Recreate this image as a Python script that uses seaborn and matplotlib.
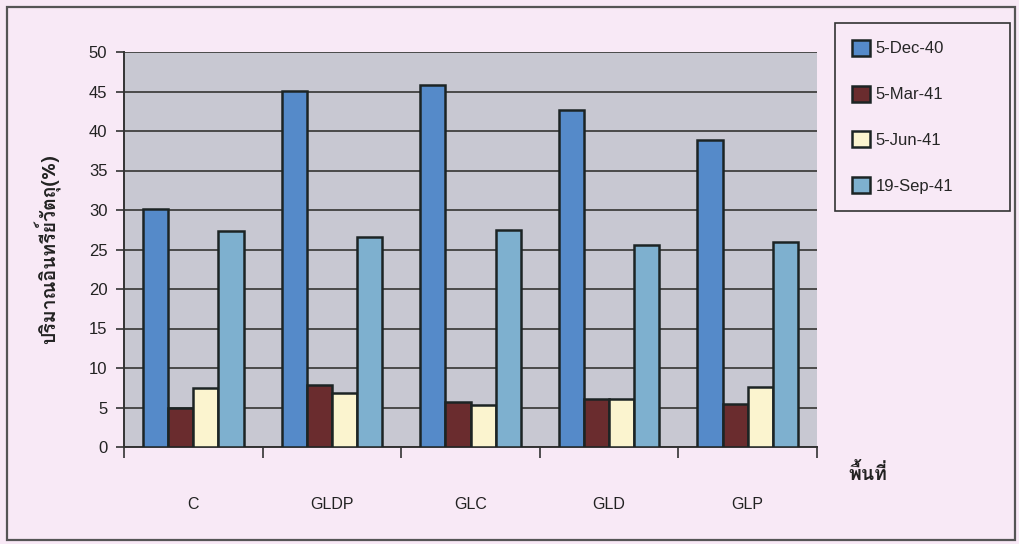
import numpy as np
import pandas as pd
import matplotlib
matplotlib.use("Agg")
import matplotlib.pyplot as plt
from matplotlib import font_manager
from matplotlib.ft2font import FT2Font
from matplotlib.patches import Rectangle
import seaborn as sns

# ---- data -------------------------------------------------------------
sites = ["C", "GLDP", "GLC", "GLD", "GLP"]
dates = ["5-Dec-40", "5-Mar-41", "5-Jun-41", "19-Sep-41"]
dec_40 = [30.1, 45.1, 45.8, 42.7, 38.9]
mar_41 = [4.9, 7.8, 5.7, 6.1, 5.5]
jun_41 = [7.5, 6.8, 5.3, 6.1, 7.6]
sep_41 = [27.3, 26.6, 27.5, 25.6, 26.0]
y_ticks = [0, 5, 10, 15, 20, 25, 30, 35, 40, 45, 50]
y_label = "ปริมาณอินทรีย์วัตถุ(%)"
x_label = "พื้นที่"

series = [dec_40, mar_41, jun_41, sep_41]
df = pd.DataFrame({
    "site": np.repeat([sites], len(dates), axis=0).ravel(),
    "date": np.repeat(dates, len(sites)),
    "value": np.concatenate(series),
})

colors = ["#558ac9", "#6a2c2e", "#fbf4cf", "#7eb0cf"]
fig_bg = "#f8e9f6"
plot_bg = "#c8c8d2"


# ---- fonts ------------------------------------------------------------
def find_font_with(char):
    code = ord(char)
    for f in font_manager.fontManager.ttflist:
        try:
            if code in FT2Font(f.fname).get_charmap():
                return f.name
        except Exception:
            continue
    return None


sns.set_theme(style="white")
latin = "Liberation Sans"
thai = find_font_with("ป")
plt.rcParams["font.family"] = [latin, "DejaVu Sans"]
thai_family = [thai, latin] if thai else [latin, "DejaVu Sans"]

# ---- figure -----------------------------------------------------------
fig = plt.figure(figsize=(10.19, 5.44), dpi=100, facecolor=fig_bg)
ax = fig.add_axes([124 / 1019, 1 - 447 / 544, 693 / 1019, 395 / 544])
ax.set_facecolor(plot_bg)

sns.barplot(data=df, x="site", y="value", hue="date", order=sites,
            hue_order=dates, palette=colors, width=0.727, gap=0,
            edgecolor="#1c2424", linewidth=1.8, saturation=1,
            errorbar=None, ax=ax, zorder=3)

ax.set_ylim(0, 50)
ax.set_xlim(-0.5, len(sites) - 0.5)
ax.set_yticks(y_ticks)
ax.set_yticklabels([str(t) for t in y_ticks], fontsize=12, color="#222222")
ax.yaxis.grid(True, color="#4a4a4a", linewidth=1.4, zorder=1)
ax.xaxis.grid(False)
ax.set_axisbelow(True)

# category labels centred, tick marks at category boundaries
ax.set_xticks(range(len(sites)))
ax.set_xticklabels(sites, fontsize=11.5, color="#222222")
ax.tick_params(axis="x", which="major", length=0, pad=36)
ax.set_xticks(np.arange(-0.5, len(sites)), minor=True)
ax.tick_params(axis="x", which="minor", length=8, width=1.2,
               color="#333333", direction="out", bottom=True)
ax.tick_params(axis="y", length=6, width=1.2, color="#333333",
               direction="out", left=True, pad=6)

for side in ["top", "right"]:
    ax.spines[side].set_visible(False)
for side in ["left", "bottom"]:
    ax.spines[side].set_color("#333333")
    ax.spines[side].set_linewidth(1.4)

ax.set_xlabel("")
ax.set_ylabel(y_label, fontsize=14, fontweight="bold", family=thai_family,
              labelpad=20, color="#222222")
fig.text(868 / 1019, 1 - 474 / 544, x_label, fontsize=14, fontweight="bold",
         family=thai_family, color="#222222", ha="center", va="center")

# legend box on the right
handles, labels = ax.get_legend_handles_labels()
ax.legend(handles, labels, loc="upper left",
          bbox_to_anchor=(835 / 1019, 1 - 213 / 544, 175 / 1019, 190 / 544),
          bbox_transform=fig.transFigure, mode="expand",
          fontsize=12, frameon=True, fancybox=False, facecolor=fig_bg,
          edgecolor="#333333", framealpha=1, labelspacing=1.75,
          handlelength=1.1, handleheight=1.1, handletextpad=0.35,
          borderpad=1.0, borderaxespad=0)
ax.get_legend().get_frame().set_linewidth(1.2)

# outer chart border
fig.patches.append(Rectangle((7 / 1019, 4 / 544), 1008 / 1019, 533 / 544,
                             transform=fig.transFigure, fill=False,
                             edgecolor="#555555", linewidth=1.6))

fig.savefig("out.png", dpi=100, facecolor=fig_bg)
